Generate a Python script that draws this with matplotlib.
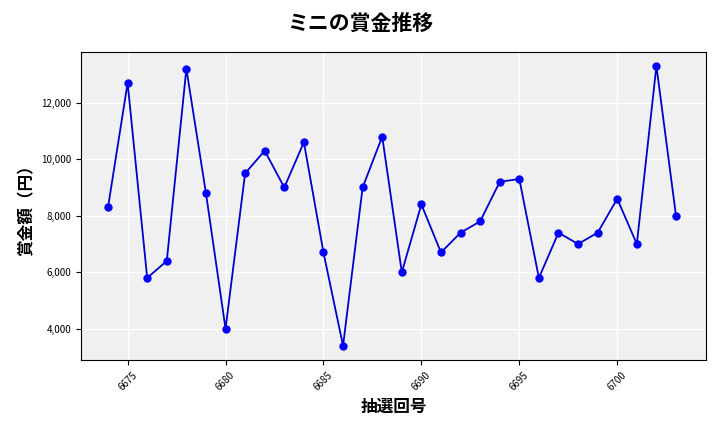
import matplotlib
matplotlib.use("Agg")
import matplotlib.pyplot as plt
from matplotlib.ticker import FuncFormatter

plt.rcParams['font.family'] = ['Noto Sans CJK JP', 'DejaVu Sans']

draws = list(range(6674, 6704))
prizes = [8300, 12700, 5800, 6400, 13200, 8800, 4000, 9500, 10300, 9000,
          10600, 6700, 3400, 9000, 10800, 6000, 8400, 6700, 7400, 7800,
          9200, 9300, 5800, 7400, 7000, 7400, 8600, 7000, 13300, 8000]

fig = plt.figure(figsize=(7.2, 4.32), dpi=100)
ax = fig.add_axes([0.1125, 0.167, 0.868, 0.713])
ax.set_facecolor('#f0f0f0')
ax.grid(True, color='white', linewidth=1)
ax.set_axisbelow(True)
ax.plot(draws, prizes, color='#0000cc', linewidth=1.3, marker='o', markersize=5,
        markerfacecolor='blue', markeredgecolor='blue')
ax.set_xlim(6672.62, 6704.53)
ax.set_ylim(2900, 13800)
ax.set_xticks([6675, 6680, 6685, 6690, 6695, 6700])
ax.yaxis.set_major_formatter(FuncFormatter(lambda v, p: f"{int(v):,}"))
ax.tick_params(axis='x', labelrotation=45, labelsize=7)
ax.tick_params(axis='y', labelsize=7)
ax.set_xlabel('抽選回号', fontsize=12, fontweight='bold')
ax.set_ylabel('賞金額（円）', fontsize=12, fontweight='bold')
fig.suptitle('ミニの賞金推移', fontsize=15, fontweight='bold', y=0.97)
fig.savefig('out.png', dpi=100)
